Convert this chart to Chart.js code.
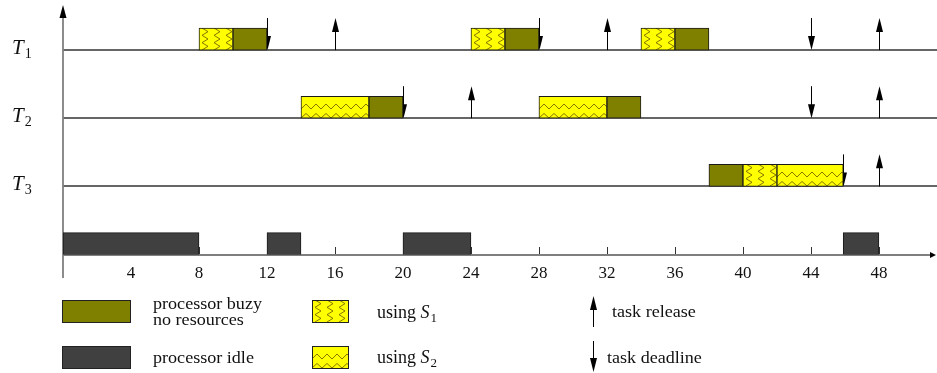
<!DOCTYPE html>
<html>
<head>
<meta charset="utf-8">
<script src="https://cdn.jsdelivr.net/npm/chart.js@4.4.1/dist/chart.umd.min.js"></script>
<style>
  body { margin: 0; background: #fff; }
  #wrap { position: relative; width: 937px; height: 373px; font-family: "Liberation Serif", serif; color: #111; }
  #wrap canvas { position: absolute; }
  .txt { position: absolute; white-space: nowrap; font-size: 16px; line-height: 16px; transform: scaleX(1.13); transform-origin: 0 0; }
  .big { font-size: 18px; line-height: 18px; transform: none; }
  .big i { font-style: italic; }
  .big sub { font-size: 13px; vertical-align: -4px; line-height: 0; margin-left: 1px; }
  .box { position: absolute; box-sizing: border-box; border: 1px solid #222; }
</style>
</head>
<body>
<div id="wrap">
  <canvas id="chart" width="937" height="373" style="left:0;top:0"></canvas>

  <div class="box" style="left:62px;top:300px;width:69px;height:23px;background:#808000"></div>
  <div class="txt" style="left:153px;top:296px">processor buzy<br>no resources</div>
  <div class="box" style="left:62px;top:346px;width:69px;height:23px;background:#404040"></div>
  <div class="txt" style="left:153px;top:350px">processor idle</div>

  <canvas id="swS1" width="37" height="23" style="left:312px;top:300px"></canvas>
  <div class="txt big" style="left:377px;top:303px">using <i>S</i><sub>1</sub></div>
  <canvas id="swS2" width="37" height="23" style="left:312px;top:346px"></canvas>
  <div class="txt big" style="left:377px;top:348px">using <i>S</i><sub>2</sub></div>

  <canvas id="swRel" width="9" height="33" style="left:589px;top:295px"></canvas>
  <div class="txt" style="left:612px;top:304px">task release</div>
  <canvas id="swDl" width="9" height="33" style="left:589px;top:340px"></canvas>
  <div class="txt" style="left:607px;top:350px">task deadline</div>
</div>

<script>
// schedule data (time units)
const tasks = ["T1", "T2", "T3"];
const rows = ["T1", "T2", "T3", "cpu"];
const xTicks = [4, 8, 12, 16, 20, 24, 28, 32, 36, 40, 44, 48];

const busyJobs = [["T1", 10, 12], ["T1", 26, 28], ["T1", 36, 38], ["T2", 18, 20], ["T2", 32, 34], ["T3", 38, 40]];
const s1Jobs = [["T1", 8, 10], ["T1", 24, 26], ["T1", 34, 36], ["T3", 40, 42]];
const s2Jobs = [["T2", 14, 18], ["T2", 28, 32], ["T3", 42, 45.9]];
const idleSlots = [[0, 8], [12, 14], [20, 24], [45.9, 48]];

const releases = [["T1", 16], ["T1", 32], ["T1", 48], ["T2", 24], ["T2", 48], ["T3", 48]];
const deadlines = [["T1", 12], ["T1", 28], ["T1", 44], ["T2", 20], ["T2", 44], ["T3", 45.9]];

const ROW_PX = 68;
const BAR_PX = 22;
const BAR_H = BAR_PX / ROW_PX;      // bar height in row units
const ARROW_H = 32 / ROW_PX;
const YELLOW = "#ffff00";
const ZIG = "rgba(120,105,0,0.9)";

const rowOf = name => rows.length - 1 - rows.indexOf(name);

function tileS1() {
  const c = document.createElement("canvas");
  c.width = 12; c.height = 22;
  const g = c.getContext("2d");
  g.fillStyle = YELLOW; g.fillRect(0, 0, 12, 22);
  g.strokeStyle = ZIG; g.lineWidth = 1;
  g.beginPath();
  for (let i = 0; i <= 6; i++) {
    const px = i % 2 ? 9 : 3, py = i * 22 / 6;
    i ? g.lineTo(px, py) : g.moveTo(px, py);
  }
  g.stroke();
  return c;
}

function tileS2() {
  const c = document.createElement("canvas");
  c.width = 10; c.height = 22;
  const g = c.getContext("2d");
  g.fillStyle = YELLOW; g.fillRect(0, 0, 10, 22);
  g.strokeStyle = ZIG; g.lineWidth = 1;
  [[13, 8], [22, 17.5]].forEach(([lo, hi]) => {
    g.beginPath(); g.moveTo(0, lo); g.lineTo(5, hi); g.lineTo(10, lo); g.stroke();
  });
  return c;
}

const tiles = { s1: tileS1(), s2: tileS2() };

function patternFill(kind) {
  return c => {
    if (!c.raw) return YELLOW;
    const ch = c.chart;
    const left = ch.scales.x.getPixelForValue(c.raw.x[0]);
    const top = ch.scales.y.getPixelForValue(c.raw.y) - BAR_PX / 2;
    const p = ch.ctx.createPattern(tiles[kind], "repeat");
    p.setTransform(new DOMMatrix().translate(Math.round(left), Math.round(top)));
    return p;
  };
}

const toBars = list => list.map(([t, a, b]) => ({ x: [a, b], y: rowOf(t) + BAR_H / 2 }));

function drawArrow(ctx, px, yTail, yHead) {
  const dir = yHead < yTail ? 1 : -1;
  ctx.beginPath(); ctx.moveTo(px, yTail); ctx.lineTo(px, yHead + dir * 10); ctx.stroke();
  ctx.beginPath();
  ctx.moveTo(px, yHead);
  ctx.lineTo(px - 3.5, yHead + dir * 14);
  ctx.lineTo(px + 3.5, yHead + dir * 14);
  ctx.closePath(); ctx.fill();
}

const schedulePlugin = {
  id: "schedule",
  beforeDatasetsDraw(chart) {
    const { ctx, chartArea: a, scales: { x, y } } = chart;
    ctx.save();
    // task baselines
    ctx.strokeStyle = "#333"; ctx.lineWidth = 1.5;
    tasks.forEach(t => {
      const py = Math.round(y.getPixelForValue(rowOf(t)));
      ctx.beginPath(); ctx.moveTo(a.left, py); ctx.lineTo(chart.width, py); ctx.stroke();
    });
    // time axis with arrow
    const y0 = Math.round(y.getPixelForValue(0));
    ctx.strokeStyle = "#555";
    ctx.beginPath(); ctx.moveTo(a.left, y0); ctx.lineTo(a.right - 4, y0); ctx.stroke();
    ctx.fillStyle = "#000";
    ctx.beginPath(); ctx.moveTo(a.right + 1, y0); ctx.lineTo(a.right - 5, y0 - 3); ctx.lineTo(a.right - 5, y0 + 3); ctx.fill();
    // tick marks
    ctx.strokeStyle = "#333"; ctx.lineWidth = 1;
    x.ticks.forEach(t => {
      const px = Math.round(x.getPixelForValue(t.value)) + 0.5;
      ctx.beginPath(); ctx.moveTo(px, y0 - 1); ctx.lineTo(px, y0 - 8); ctx.stroke();
    });
    // vertical axis with arrow
    ctx.strokeStyle = "#808080"; ctx.lineWidth = 1.8;
    ctx.beginPath(); ctx.moveTo(a.left, y0 + 23); ctx.lineTo(a.left, a.top + 10); ctx.stroke();
    ctx.fillStyle = "#000";
    ctx.beginPath(); ctx.moveTo(a.left, a.top); ctx.lineTo(a.left - 3.5, a.top + 13); ctx.lineTo(a.left + 3.5, a.top + 13); ctx.fill();
    // releases and deadlines
    ctx.strokeStyle = "#000"; ctx.fillStyle = "#000"; ctx.lineWidth = 1;
    releases.forEach(([t, v]) => {
      const px = Math.round(x.getPixelForValue(v)) + 0.5;
      drawArrow(ctx, px, y.getPixelForValue(rowOf(t)), y.getPixelForValue(rowOf(t) + ARROW_H));
    });
    deadlines.forEach(([t, v]) => {
      const px = Math.round(x.getPixelForValue(v)) + 0.5;
      drawArrow(ctx, px, y.getPixelForValue(rowOf(t) + ARROW_H), y.getPixelForValue(rowOf(t)));
    });
    ctx.restore();
  },
  afterDraw(chart) {
    const { ctx, scales: { y } } = chart;
    ctx.save();
    ctx.fillStyle = "#111";
    ctx.textBaseline = "alphabetic";
    tasks.forEach(t => {
      const py = y.getPixelForValue(rowOf(t));
      ctx.font = "italic 21px 'Liberation Serif'";
      ctx.fillText(t[0], 12, py + 4);
      const w = ctx.measureText(t[0]).width;
      ctx.font = "14px 'Liberation Serif'";
      ctx.fillText(t.slice(1), 13 + w, py + 8);
    });
    ctx.restore();
  }
};

const barBase = { type: "bar", grouped: false, barThickness: BAR_PX, borderWidth: 1, borderColor: "#1a1a1a", borderSkipped: false };

new Chart(document.getElementById("chart"), {
  type: "bar",
  data: {
    datasets: [
      { ...barBase, label: "processor buzy", data: toBars(busyJobs), backgroundColor: "#808000" },
      { ...barBase, label: "using S1", data: toBars(s1Jobs), backgroundColor: patternFill("s1") },
      { ...barBase, label: "using S2", data: toBars(s2Jobs), backgroundColor: patternFill("s2") },
      { ...barBase, label: "processor idle", data: idleSlots.map(([a, b]) => ({ x: [a, b], y: BAR_H / 2 })), backgroundColor: "#404040" }
    ]
  },
  options: {
    indexAxis: "y",
    responsive: false,
    animation: false,
    devicePixelRatio: 1,
    layout: { padding: { left: 63, right: 2, top: 5, bottom: 80 } },
    plugins: { legend: { display: false }, tooltip: { enabled: false } },
    scales: {
      x: {
        type: "linear", min: 0, max: 51.3,
        afterBuildTicks: s => { s.ticks = xTicks.map(v => ({ value: v })); },
        grid: { display: false, drawTicks: false },
        border: { display: false },
        ticks: { autoSkip: false, maxRotation: 0, padding: 9, color: "#111", font: { family: "Liberation Serif", size: 17 } }
      },
      y: {
        type: "linear", min: 0, max: 3.662, offset: false, display: false,
        grid: { display: false }
      }
    }
  },
  plugins: [schedulePlugin]
});

// legend swatches
function swatch(id, kind) {
  const g = document.getElementById(id).getContext("2d");
  g.fillStyle = g.createPattern(tiles[kind], "repeat");
  g.fillRect(0, 0, 37, 23);
  g.strokeStyle = "#222"; g.lineWidth = 1; g.strokeRect(0.5, 0.5, 36, 22);
}
swatch("swS1", "s1");
swatch("swS2", "s2");

function legendArrow(id, up) {
  const g = document.getElementById(id).getContext("2d");
  g.strokeStyle = "#000"; g.fillStyle = "#000"; g.lineWidth = 1;
  if (up) drawArrow(g, 4.5, 32, 1); else drawArrow(g, 4.5, 1, 32);
}
legendArrow("swRel", true);
legendArrow("swDl", false);
</script>
</body>
</html>
